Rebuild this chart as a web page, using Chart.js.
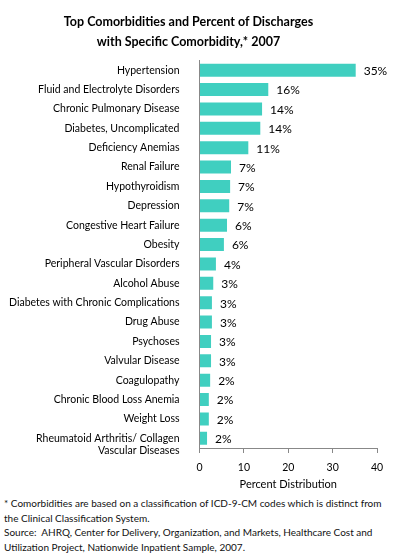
<!DOCTYPE html>
<html>
<head>
<meta charset="utf-8">
<script src="https://cdn.jsdelivr.net/npm/chart.js@4.4.1/dist/chart.umd.min.js"></script>
<style>
    body { margin: 0; background: #fff; width: 397px; height: 554px; overflow: hidden; font-family: Lato, sans-serif; }
    #wrap { position: relative; width: 397px; height: 494px; }
    #note { position: absolute; left: 4px; top: 496px; font-size: 10px; line-height: 14.5px; color: #111; }
</style>
</head>
<body>
<div id="wrap"><canvas id="chart"></canvas></div>
<div id="note">
    * Comorbidities are based on a classification of ICD-9-CM codes which is distinct from<br>
    the Clinical Classification System.<br>
    Source:&nbsp; AHRQ, Center for Delivery, Organization, and Markets, Healthcare Cost and<br>
    Utilization Project, Nationwide Inpatient Sample, 2007.
</div>
<script>
// Datos
const categories = [
    'Hypertension',
    'Fluid and Electrolyte Disorders',
    'Chronic Pulmonary Disease',
    'Diabetes, Uncomplicated',
    'Deficiency Anemias',
    'Renal Failure',
    'Hypothyroidism',
    'Depression',
    'Congestive Heart Failure',
    'Obesity',
    'Peripheral Vascular Disorders',
    'Alcohol Abuse',
    'Diabetes with Chronic Complications',
    'Drug Abuse',
    'Psychoses',
    'Valvular Disease',
    'Coagulopathy',
    'Chronic Blood Loss Anemia',
    'Weight Loss',
    ['', 'Rheumatoid Arthritis/ Collagen', 'Vascular Diseases'],
];
const values = [35.2, 15.5, 14.1, 13.7, 11.0, 7.1, 6.9, 6.7, 6.2, 5.5, 3.7, 3.1, 2.8, 2.8, 2.6, 2.6, 2.4, 2.1, 2.1, 1.7];
const valueLabels = ['35%', '16%', '14%', '14%', '11%', '7%', '7%', '7%', '6%', '6%', '4%', '3%', '3%', '3%', '3%', '3%', '2%', '2%', '2%', '2%'];
const xTicks = [0, 10, 20, 30, 40];

const FONT = 'Lato, sans-serif';

// Etiquetas de valor al final de cada barra
const barLabels = {
    id: 'barLabels',
    afterDatasetsDraw(chart) {
        const ctx = chart.ctx;
        const meta = chart.getDatasetMeta(0);
        ctx.save();
        ctx.font = `12px ${FONT}`;
        ctx.fillStyle = '#000';
        ctx.textBaseline = 'middle';
        ctx.textAlign = 'left';
        meta.data.forEach((bar, i) => {
            ctx.fillText(valueLabels[i], bar.x + 8, bar.y + 1);
        });
        ctx.restore();
    }
};

new Chart(document.getElementById('chart'), {
    type: 'bar',
    data: {
        labels: categories,
        datasets: [{
            data: values,
            backgroundColor: '#40CFC0',
            borderWidth: 0,
            barPercentage: 0.67,
            categoryPercentage: 1,
        }]
    },
    options: {
        indexAxis: 'y',
        responsive: true,
        maintainAspectRatio: false,
        animation: false,
        layout: { padding: { left: 0, right: 20, bottom: 3.2 } },
        plugins: {
            legend: { display: false },
            tooltip: { enabled: false },
            title: {
                display: true,
                text: ['Top Comorbidities and Percent of Discharges', 'with Specific Comorbidity,* 2007'],
                font: { family: FONT, size: 12.5, weight: 'bold', lineHeight: 1.6 },
                color: '#000',
                padding: { top: 12, bottom: 8.5 },
            },
        },
        scales: {
            x: {
                min: 0,
                max: 40,
                afterBuildTicks: scale => { scale.ticks = xTicks.map(v => ({ value: v })); },
                grid: { drawOnChartArea: false, drawTicks: true, tickLength: 5, color: '#888' },
                border: { color: '#888' },
                ticks: { font: { family: FONT, size: 10.5 }, color: '#000', padding: 8 },
                title: {
                    display: true,
                    text: 'Percent Distribution',
                    font: { family: FONT, size: 11 },
                    color: '#000',
                    // el relleno de las marcas se cuenta dos veces; se compensa aquí
                    padding: { top: -4, bottom: 0 },
                },
            },
            y: {
                afterFit: scale => { scale.width = 199.5; },
                grid: { display: false },
                border: { display: true, color: '#888' },
                ticks: { font: { family: FONT, size: 10.5 }, color: '#000', padding: 12, autoSkip: false },
            },
        },
    },
    plugins: [barLabels],
});
</script>
</body>
</html>
